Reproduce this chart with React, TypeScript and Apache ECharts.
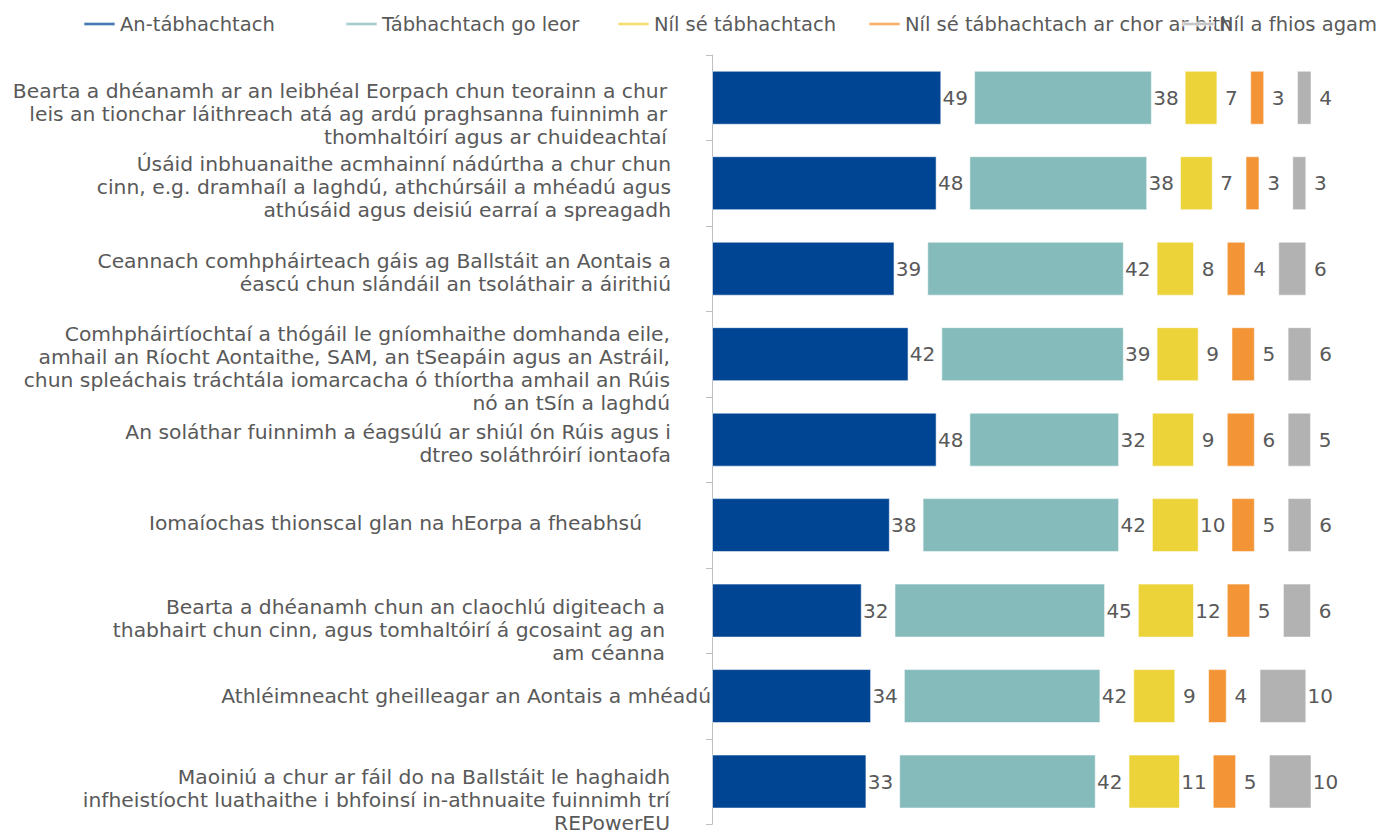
import React, { useEffect, useRef } from "react";
import * as echarts from "echarts";

const categories = [
  "Bearta a dhéanamh ar an leibhéal Eorpach chun teorainn a chur\nleis an tionchar láithreach atá ag ardú praghsanna fuinnimh ar\nthomhaltóirí agus ar chuideachtaí",
  "Úsáid inbhuanaithe acmhainní nádúrtha a chur chun\ncinn, e.g. dramhaíl a laghdú, athchúrsáil a mhéadú agus\nathúsáid agus deisiú earraí a spreagadh",
  "Ceannach comhpháirteach gáis ag Ballstáit an Aontais a\néascú chun slándáil an tsoláthair a áirithiú",
  "Comhpháirtíochtaí a thógáil le gníomhaithe domhanda eile,\namhail an Ríocht Aontaithe, SAM, an tSeapáin agus an Astráil,\nchun spleáchais tráchtála iomarcacha ó thíortha amhail an Rúis\nnó an tSín a laghdú",
  "An soláthar fuinnimh a éagsúlú ar shiúl ón Rúis agus i\ndtreo soláthróirí iontaofa",
  "Iomaíochas thionscal glan na hEorpa a fheabhsú",
  "Bearta a dhéanamh chun an claochlú digiteach a\nthabhairt chun cinn, agus tomhaltóirí á gcosaint ag an\nam céanna",
  "Athléimneacht gheilleagar an Aontais a mhéadú",
  "Maoiniú a chur ar fáil do na Ballstáit le haghaidh\ninfheistíocht luathaithe i bhfoinsí in-athnuaite fuinnimh trí\nREPowerEU",
];

const seriesNames = [
  "An-tábhachtach",
  "Tábhachtach go leor",
  "Níl sé tábhachtach",
  "Níl sé tábhachtach ar chor ar bith",
  "Níl a fhios agam",
];

const veryImportant = [49, 48, 39, 42, 48, 38, 32, 34, 33];
const fairlyImportant = [38, 38, 42, 39, 32, 42, 45, 42, 42];
const notImportant = [7, 7, 8, 9, 9, 10, 12, 9, 11];
const notAtAll = [3, 3, 4, 5, 6, 5, 5, 4, 5];
const dontKnow = [4, 3, 6, 6, 5, 6, 6, 10, 10];

const seriesValues = [veryImportant, fairlyImportant, notImportant, notAtAll, dontKnow];

// styling (not data)
const colors = ["#004494", "#85BBBB", "#EDD33A", "#F39536", "#B2B2B2"];
const GAP = 7; // invisible spacer between segments
const legendLeft = [83, 345, 617, 868, 1182];
const labelShiftY = [16, 4, 4, 14, 4, -2, 19, 0, 18];
const labelPadRight = [44, 40, 40, 41, 40, 69, 46, 0, 41];

export default function App() {
  const ref = useRef<HTMLDivElement>(null);

  useEffect(() => {
    document.body.style.margin = "0";
    if (!ref.current) return;
    const chart = echarts.init(ref.current, null, { renderer: "svg" });
    const font = "DejaVu Sans, Verdana, sans-serif";

    const series: any[] = [];
    seriesValues.forEach((vals, i) => {
      series.push({
        name: seriesNames[i],
        type: "bar",
        stack: "total",
        barWidth: 54,
        data: vals,
        itemStyle: {
          color: colors[i],
          borderColor: "rgba(255,255,255,0.55)",
          borderWidth: 1,
        },
        label: {
          show: true,
          position: "right",
          distance: 14,
          align: "center",
          fontSize: 20,
          fontFamily: font,
          color: "#595959",
        },
      });
      if (i < seriesValues.length - 1) {
        series.push({
          name: "gap" + i,
          type: "bar",
          stack: "total",
          barWidth: 54,
          silent: true,
          data: categories.map(() => GAP),
          itemStyle: { color: "rgba(0,0,0,0)" },
          label: { show: false },
        });
      }
    });

    const option: any = {
      animation: false,
      backgroundColor: "#ffffff",
      color: colors,
      legend: seriesNames.map((n, i) => ({
        data: [n],
        left: legendLeft[i],
        top: 14,
        icon: "rect",
        itemWidth: 31,
        itemHeight: 3,
        itemGap: 0,
        padding: 0,
        selectedMode: false,
        textStyle: { fontSize: 19.5, fontFamily: font, color: "#595959" },
      })),
      grid: { left: 712, right: 67, top: 55, bottom: 9, containLabel: false },
      xAxis: { type: "value", min: 0, max: 128, show: false },
      yAxis: {
        type: "category",
        inverse: true,
        data: categories.map((c, i) => {
          const dy = labelShiftY[i];
          return {
            value: c,
            textStyle: {
              padding: dy >= 0 ? [2 * dy, labelPadRight[i], 0, 0] : [0, labelPadRight[i], -2 * dy, 0],
            },
          };
        }),
        axisLine: { show: true, lineStyle: { color: "#BFBFBF", width: 1 } },
        axisTick: { show: true, length: 6, lineStyle: { color: "#BFBFBF" } },
        axisLabel: {
          interval: 0,
          hideOverlap: false,
          fontSize: 20.3,
          fontFamily: font,
          color: "#595959",
          lineHeight: 23,
          margin: 1,
          align: "right",
          verticalAlign: "middle",
          formatter: (v: string) =>
            v
              .split("\n")
              .map((l) => "{t|" + l + "}")
              .join("\n"),
          rich: {
            t: {
              fontSize: 20.3,
              fontFamily: font,
              color: "#595959",
              lineHeight: 23,
              align: "right",
            },
          },
        },
      },
      series,
    };
    chart.setOption(option);
    return () => chart.dispose();
  }, []);

  return <div ref={ref} style={{ width: 1378, height: 834 }} />;
}
